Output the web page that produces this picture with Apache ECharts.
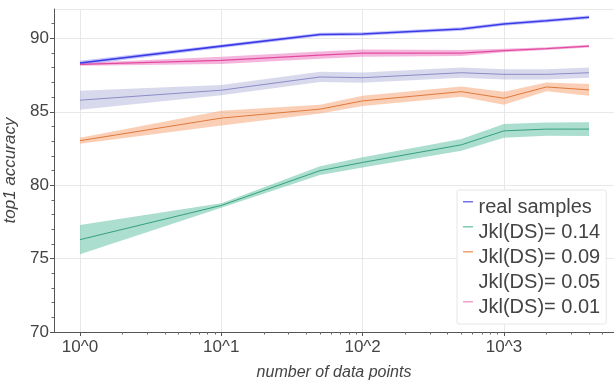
<!DOCTYPE html>
<html><head><meta charset="utf-8">
<script src="https://cdn.jsdelivr.net/npm/echarts@6/dist/echarts.min.js"></script>
<style>html,body{margin:0;padding:0;background:#fff}#c{width:614px;height:382px}</style>
</head><body><div id="c"></div>
<script>
// ---- data ----
const dataPoints = [1, 10, 50, 100, 500, 1000, 2000, 4000];
const seriesNames = ['real samples', 'Jkl(DS)= 0.14', 'Jkl(DS)= 0.09', 'Jkl(DS)= 0.05', 'Jkl(DS)= 0.01'];
const realMean    = [88.32, 89.47, 90.26, 90.30, 90.64, 90.98, 91.20, 91.44];
const realSpread  = [0.15, 0.12, 0.12, 0.12, 0.12, 0.12, 0.12, 0.12];
const j014Mean    = [76.29, 78.62, 80.99, 81.55, 82.75, 83.70, 83.82, 83.82];
const j014Spread  = [1.00, 0.15, 0.30, 0.35, 0.40, 0.47, 0.45, 0.47];
const j009Mean    = [83.03, 84.57, 85.18, 85.74, 86.37, 85.92, 86.69, 86.49];
const j009Spread  = [0.20, 0.50, 0.30, 0.35, 0.35, 0.45, 0.30, 0.40];
const j005Mean    = [85.79, 86.47, 87.37, 87.32, 87.66, 87.55, 87.55, 87.66];
const j005Spread  = [0.65, 0.35, 0.35, 0.35, 0.35, 0.35, 0.35, 0.35];
const j001Mean    = [88.23, 88.50, 88.86, 89.00, 89.00, 89.17, 89.30, 89.47];
const j001Spread  = [0.10, 0.25, 0.25, 0.25, 0.20, 0.12, 0.10, 0.10];
const xTickValues = [1, 10, 100, 1000];
const xMinorTickValues = [2,3,4,5,6,7,8,9,20,30,40,50,60,70,80,90,200,300,400,500,600,700,800,900,2000,3000,4000,5000,6000];
const yMinorTickValues = [71,72,73,74,76,77,78,79,81,82,83,84,86,87,88,89,91];

// ---- styles ----
const lineColors = ['#3a3ae6', '#35a07c', '#e07a3c', '#8c8cc8', '#e24a9e'];
const bandColors = ['rgba(120,120,250,0.45)', 'rgba(102,194,165,0.55)', 'rgba(245,160,110,0.5)', 'rgba(160,160,210,0.4)', 'rgba(235,110,190,0.5)'];
const legendColors = ['#7272e6', '#7fcab2', '#f2a070', 'rgba(0,0,0,0)', '#f0a2cc'];
const lineWidths = [1.6, 1, 1, 1, 1.2];

const means = [realMean, j014Mean, j009Mean, j005Mean, j001Mean];
const spreads = [realSpread, j014Spread, j009Spread, j005Spread, j001Spread];

const FONT = 'Liberation Sans';
const series = [];
const drawOrder = [3, 1, 2, 4, 0];
drawOrder.forEach(i => {
  const m = means[i], s = spreads[i];
  const bandData = dataPoints.map((x, k) => [x, m[k] - s[k], m[k] + s[k]]);
  series.push({
    type: 'custom', silent: true, xAxisIndex: 0, yAxisIndex: 0,
    data: bandData,
    encode: { x: 0, y: [1, 2] },
    clip: true,
    renderItem: function (params, api) {
      if (params.dataIndex !== 0) return null;
      const upper = bandData.map(d => api.coord([d[0], d[2]]));
      const lower = bandData.map(d => api.coord([d[0], d[1]])).reverse();
      return {
        type: 'polygon',
        shape: { points: upper.concat(lower) },
        style: { fill: bandColors[i], stroke: null }
      };
    }
  });
});
drawOrder.forEach(i => {
  series.push({
    name: seriesNames[i], type: 'line', symbol: 'none',
    xAxisIndex: 0, yAxisIndex: 0,
    lineStyle: { color: lineColors[i], width: lineWidths[i] },
    itemStyle: { color: lineColors[i] },
    data: dataPoints.map((x, k) => [x, means[i][k]])
  });
});

const legendIcon = 'path://M0,0L10,0L10,1.4L0,1.4Z M0,12L0.01,12L0.01,12.01L0,12.01Z';

const chart = echarts.init(document.getElementById('c'), null, { renderer: 'canvas' });
chart.setOption({
  animation: false,
  backgroundColor: '#fff',
  textStyle: { fontFamily: FONT },
  grid: { left: 54, right: 0, top: 9, bottom: 50, containLabel: false, outerBoundsMode: 'none' },
  legend: {
    orient: 'vertical', left: 457, top: 190,
    backgroundColor: '#fff', borderColor: '#e6e6e6', borderWidth: 1, borderRadius: 2,
    padding: [7, 6, 7, 6], itemGap: 5, itemWidth: 11, itemHeight: 12,
    textStyle: { fontFamily: FONT, fontSize: 20, color: '#444', lineHeight: 20 },
    data: seriesNames.map((n, i) => ({ name: n, icon: legendIcon, itemStyle: { color: legendColors[i] } }))
  },
  xAxis: [{
    type: 'log', logBase: 10, min: 0.655, max: 6012,
    name: 'number of data points', nameLocation: 'middle', nameGap: 33,
    nameTextStyle: { fontFamily: FONT, fontSize: 16, fontStyle: 'italic', color: '#444' },
    axisLine: { show: true, lineStyle: { color: '#555', width: 1 } },
    axisTick: { show: true, length: 4, customValues: xTickValues, lineStyle: { color: '#555' } },
    axisLabel: { customValues: xTickValues, fontSize: 17, color: '#444', margin: 7, fontFamily: FONT,
      formatter: v => '10^' + Math.round(Math.log10(v)) },
    splitLine: { show: true, lineStyle: { color: '#e8e8e8', width: 1 } },
    minorTick: { show: false }
  }, {
    type: 'log', logBase: 10, min: 0.655, max: 6012, position: 'bottom',
    axisLine: { show: false },
    axisTick: { show: true, length: 2.5, customValues: xMinorTickValues, lineStyle: { color: '#666' } },
    axisLabel: { show: false },
    splitLine: { show: false }
  }],
  yAxis: [{
    type: 'value', min: 70, max: 92, interval: 5,
    name: 'top1 accuracy', nameLocation: 'middle', nameGap: 30, nameRotate: 90,
    nameTextStyle: { fontFamily: FONT, fontSize: 17, fontStyle: 'italic', color: '#444' },
    axisLine: { show: true, lineStyle: { color: '#555', width: 1 } },
    axisTick: { show: true, length: 4, lineStyle: { color: '#555' } },
    axisLabel: { fontSize: 17, color: '#444', margin: 5, fontFamily: FONT, showMaxLabel: false },
    splitLine: { show: true, lineStyle: { color: '#e8e8e8', width: 1 } }
  }, {
    type: 'value', min: 70, max: 92, position: 'left',
    axisLine: { show: false },
    axisTick: { show: true, length: 2.5, customValues: yMinorTickValues, lineStyle: { color: '#666' } },
    axisLabel: { show: false },
    splitLine: { show: false }
  }],
  series: series
});
</script>
</body></html>
